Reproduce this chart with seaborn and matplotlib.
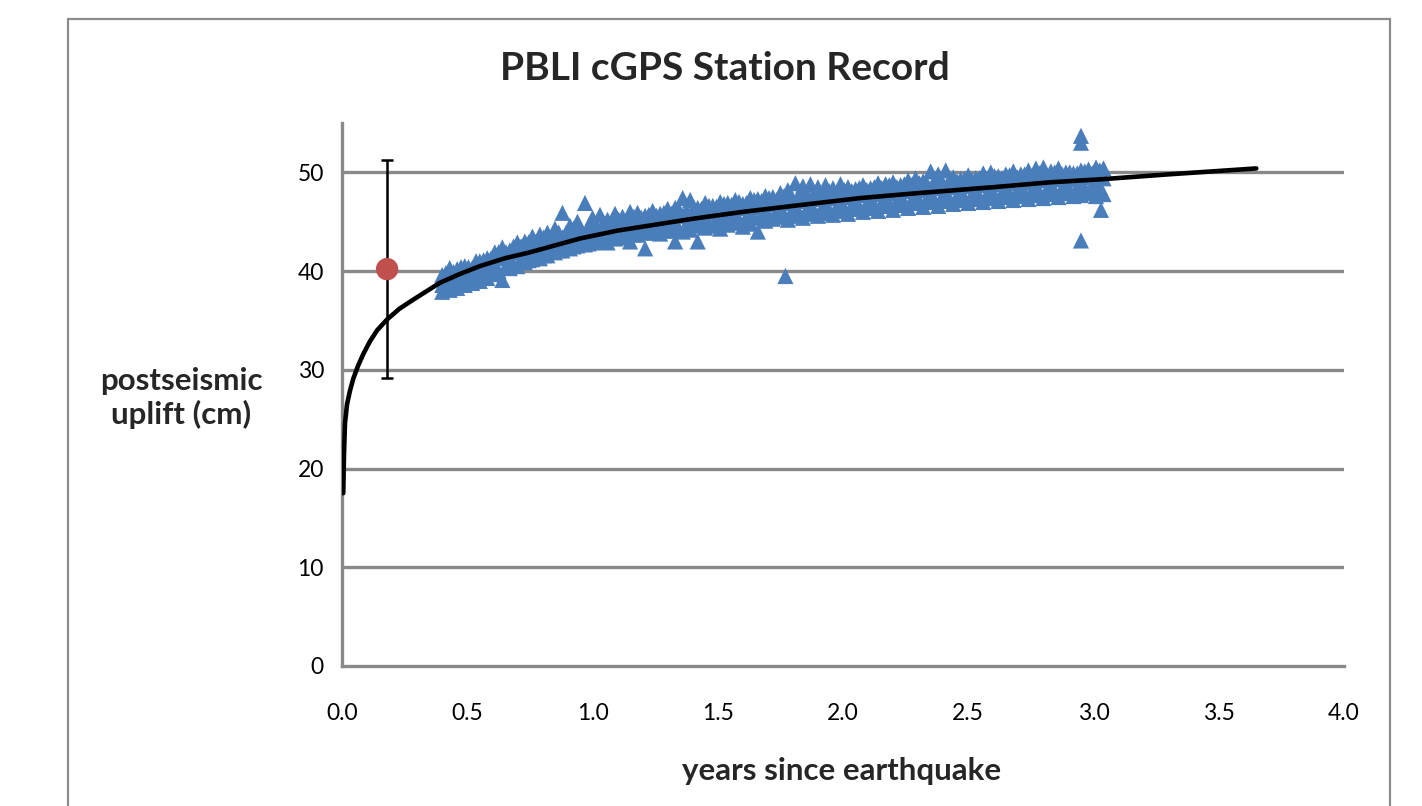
import matplotlib
matplotlib.use("Agg")
import matplotlib.pyplot as plt
import seaborn as sns
import pandas as pd
from matplotlib.patches import Rectangle

# ---------------- data ----------------
t_obs = [0.40, 0.43, 0.46, 0.49, 0.52, 0.55, 0.58, 0.61, 0.64, 0.67, 0.70, 0.73, 0.76, 0.79, 0.82,
         0.85, 0.88, 0.91, 0.94, 0.97, 1.00, 1.03, 1.06, 1.09, 1.12, 1.15, 1.18, 1.21, 1.24, 1.27,
         1.30, 1.33, 1.36, 1.39, 1.42, 1.45, 1.48, 1.51, 1.54, 1.57, 1.60, 1.63, 1.66, 1.69, 1.72,
         1.75, 1.78, 1.81, 1.84, 1.87, 1.90, 1.93, 1.96, 1.99, 2.02, 2.05, 2.08, 2.11, 2.14, 2.17,
         2.20, 2.23, 2.26, 2.29, 2.32, 2.35, 2.38, 2.41, 2.44, 2.47, 2.50, 2.53, 2.56, 2.59, 2.62,
         2.65, 2.68, 2.71, 2.74, 2.77, 2.80, 2.83, 2.86, 2.89, 2.92, 2.95, 2.98, 3.01, 3.04]

uplift_mid = [38.6, 39.0, 39.5, 39.4, 39.9, 40.1, 40.7, 40.6, 41.3, 41.2, 41.9, 41.8, 42.4, 42.2, 42.8,
              42.9, 43.4, 43.1, 43.7, 43.5, 44.1, 43.8, 44.3, 44.0, 44.6, 44.3, 44.9, 44.5, 45.0, 44.7,
              45.3, 44.9, 45.6, 45.2, 45.6, 45.3, 46.0, 45.6, 46.1, 45.8, 46.4, 46.0, 46.5, 46.2, 46.8,
              46.3, 46.9, 46.5, 47.1, 46.7, 47.3, 46.8, 47.4, 46.9, 47.5, 47.1, 47.7, 47.2, 47.8, 47.4,
              47.9, 47.5, 48.1, 47.6, 48.2, 47.8, 48.4, 47.9, 48.5, 48.0, 48.6, 48.1, 48.7, 48.2, 48.8,
              48.4, 48.9, 48.5, 49.0, 48.6, 49.2, 48.7, 49.3, 48.8, 49.3, 48.9, 49.5, 49.0, 49.4]

uplift_hi = [39.6, 40.3, 40.2, 40.5, 40.3, 41.0, 41.3, 41.9, 42.4, 42.1, 42.9, 43.0, 43.5, 43.7, 43.9,
             44.3, 45.9, 44.6, 45.0, 46.9, 45.4, 45.7, 45.2, 45.8, 45.5, 46.0, 45.9, 45.6, 46.1, 45.8,
             46.3, 46.4, 47.4, 47.2, 46.4, 46.9, 46.6, 47.0, 46.9, 47.2, 46.8, 47.4, 47.3, 47.6, 47.5,
             47.9, 48.2, 48.9, 48.6, 48.8, 48.5, 48.7, 48.4, 48.8, 48.5, 48.3, 48.7, 48.4, 48.9, 48.8,
             49.0, 48.7, 49.2, 49.4, 49.1, 50.1, 49.8, 50.2, 49.5, 49.3, 49.7, 49.4, 49.9, 50.0, 49.6,
             49.8, 50.1, 49.8, 50.2, 50.4, 50.5, 50.1, 50.4, 50.0, 49.9, 50.2, 50.3, 50.5, 50.4]

uplift_lo = [37.9, 38.1, 38.3, 38.6, 38.8, 39.0, 39.3, 39.7, 39.1, 40.3, 40.5, 40.9, 41.2, 41.3, 41.6,
             41.9, 42.1, 42.3, 42.6, 42.7, 42.9, 43.1, 42.9, 43.3, 43.5, 43.0, 43.7, 42.3, 43.9, 43.8,
             44.1, 43.0, 44.0, 44.2, 43.0, 44.4, 44.6, 44.3, 44.7, 44.9, 44.5, 44.8, 44.0, 45.1, 45.3,
             45.5, 45.2, 45.6, 45.4, 45.8, 45.6, 45.9, 45.7, 46.1, 45.8, 46.3, 46.0, 46.4, 46.1, 46.6,
             46.2, 46.7, 46.4, 46.9, 46.5, 47.0, 46.6, 47.1, 46.8, 47.2, 46.9, 47.3, 47.0, 47.4, 47.1,
             47.5, 47.2, 47.6, 47.3, 47.7, 47.4, 47.8, 47.5, 47.9, 47.6, 47.7, 47.9, 47.6, 47.8]

t_obs_b = [0.415, 0.445, 0.475, 0.505, 0.535, 0.565, 0.595, 0.625, 0.655, 0.685, 0.715, 0.745,
           0.775, 0.805, 0.835, 0.865, 0.895, 0.925, 0.955, 0.985, 1.015, 1.045, 1.075, 1.105,
           1.135, 1.165, 1.195, 1.225, 1.255, 1.285, 1.315, 1.345, 1.375, 1.405, 1.435, 1.465,
           1.495, 1.525, 1.555, 1.585, 1.615, 1.645, 1.675, 1.705, 1.735, 1.765, 1.795, 1.825,
           1.855, 1.885, 1.915, 1.945, 1.975, 2.005, 2.035, 2.065, 2.095, 2.125, 2.155, 2.185,
           2.215, 2.245, 2.275, 2.305, 2.335, 2.365, 2.395, 2.425, 2.455, 2.485, 2.515, 2.545,
           2.575, 2.605, 2.635, 2.665, 2.695, 2.725, 2.755, 2.785, 2.815, 2.845, 2.875, 2.905,
           2.935, 2.965, 2.995, 3.025]

uplift_ub = [39.8, 39.9, 40.4, 40.4, 41.0, 41.1, 41.3, 41.9, 41.9, 42.5, 42.5, 42.9,
             43.0, 43.4, 43.4, 43.9, 43.9, 44.3, 44.2, 44.6, 44.5, 44.9, 44.8, 45.2,
             45.1, 45.5, 45.4, 45.7, 45.6, 45.9, 45.8, 46.2, 46.1, 46.4, 46.3, 46.6,
             46.5, 46.8, 46.7, 47.0, 46.9, 47.2, 47.1, 47.4, 47.2, 47.6, 47.5, 47.7,
             47.6, 47.9, 47.8, 48.1, 47.9, 48.2, 48.1, 48.4, 48.2, 48.5, 48.4, 48.7,
             48.5, 48.8, 48.7, 48.9, 48.8, 49.1, 48.9, 49.2, 49.1, 49.3, 49.2, 49.4,
             49.3, 49.6, 49.4, 49.7, 49.5, 49.8, 49.6, 49.9, 49.7, 50.0, 49.8, 50.0,
             49.9, 50.1, 49.9, 50.2]

uplift_lb = [38.2, 38.3, 38.7, 38.9, 39.3, 39.4, 39.9, 40.0, 40.5, 40.6, 41.1, 41.1,
             41.6, 41.6, 42.0, 42.1, 42.5, 42.5, 42.9, 42.8, 43.1, 43.1, 43.4, 43.4,
             43.7, 43.7, 44.0, 43.9, 44.2, 44.1, 44.4, 44.3, 44.7, 44.6, 44.9, 44.8,
             45.1, 45.0, 45.3, 45.2, 45.5, 45.4, 45.7, 45.6, 45.8, 45.7, 46.0, 45.9,
             46.2, 46.1, 46.3, 46.2, 46.5, 46.4, 46.6, 46.5, 46.8, 46.7, 46.9, 46.8,
             47.1, 46.9, 47.2, 47.1, 47.3, 47.2, 47.5, 47.3, 47.6, 47.4, 47.7, 47.5,
             47.8, 47.7, 47.9, 47.8, 48.1, 47.9, 48.2, 48.0, 48.3, 48.1, 48.4, 48.2,
             48.5, 48.4, 48.6, 48.5]

t_outlier = [1.77, 2.95, 2.95, 2.95, 3.03]
uplift_outlier = [39.5, 43.1, 53.0, 53.7, 46.2]

t_fit = [0.005, 0.008, 0.012, 0.02, 0.032, 0.045, 0.064, 0.085, 0.112, 0.14, 0.18, 0.23, 0.284,
         0.34, 0.39, 0.47, 0.55, 0.65, 0.75, 0.85, 0.95, 1.1, 1.25, 1.4, 1.6, 1.8, 2.07, 2.3, 2.6,
         2.83, 3.03, 3.3, 3.65]
uplift_fit = [17.5, 21.5, 24.6, 26.5, 27.9, 29.1, 30.4, 31.6, 32.9, 34.0, 35.1, 36.2, 37.1,
              38.0, 38.8, 39.7, 40.5, 41.3, 41.9, 42.6, 43.3, 44.1, 44.7, 45.3, 46.0, 46.6, 47.4,
              47.9, 48.5, 49.0, 49.3, 49.8, 50.4]

t_est = [0.18]
uplift_est = [40.2]
uplift_est_err = [11.05]

x_ticks = [0.0, 0.5, 1.0, 1.5, 2.0, 2.5, 3.0, 3.5, 4.0]
y_ticks = [0, 10, 20, 30, 40, 50]

# ---------------- style ----------------
sns.set_theme(style="white")
plt.rcParams["font.family"] = ["Lato", "DejaVu Sans"]

GRID = "#898989"
BLUE = "#4A7EBB"
RED = "#C0504D"

fig = plt.figure(figsize=(14.22, 8.06), dpi=100)
ax = fig.add_axes([342 / 1422, 1 - 666 / 806, (1344 - 342) / 1422, (666 - 123) / 806])

# outer chart border
fig.patches.append(Rectangle((68 / 1422, -0.05), (1390 - 68) / 1422, 1 - 19 / 806 + 0.05,
                             transform=fig.transFigure, fill=False, edgecolor="#8c8c8c",
                             linewidth=1.6, zorder=0))

obs = pd.DataFrame({
    "t": t_obs * 3 + t_obs_b * 2 + t_outlier,
    "uplift": uplift_mid + uplift_hi + uplift_lo + uplift_ub + uplift_lb + uplift_outlier,
})
sns.scatterplot(data=obs, x="t", y="uplift", marker="^", s=135, color=BLUE,
                edgecolor="none", linewidth=0, ax=ax, zorder=3)

fit = pd.DataFrame({"t": t_fit, "uplift": uplift_fit})
sns.lineplot(data=fit, x="t", y="uplift", color="black", linewidth=3.3, ax=ax,
             sort=True, zorder=4)

ax.errorbar(t_est, uplift_est, yerr=uplift_est_err, fmt="none", ecolor="black",
            elinewidth=1.8, capsize=4.5, capthick=1.8, zorder=5)
est = pd.DataFrame({"t": t_est, "uplift": uplift_est})
sns.scatterplot(data=est, x="t", y="uplift", marker="o", s=260, color=RED,
                edgecolor="none", linewidth=0, ax=ax, zorder=6)

ax.set_xlim(0, 4)
ax.set_ylim(0, 55)
ax.set_xticks(x_ticks)
ax.set_xticklabels([f"{v:.1f}" for v in x_ticks])
ax.set_yticks(y_ticks)
ax.set_yticklabels([str(v) for v in y_ticks])

for v in y_ticks[1:]:
    ax.axhline(v, color=GRID, linewidth=2.4, zorder=1)

for side in ["top", "right"]:
    ax.spines[side].set_visible(False)
for side in ["left", "bottom"]:
    ax.spines[side].set_color(GRID)
    ax.spines[side].set_linewidth(2.4)

ax.tick_params(axis="both", direction="out", length=7, width=2.0, color=GRID,
               labelsize=16.5, labelcolor="black")
ax.tick_params(axis="x", pad=20)
ax.tick_params(axis="y", pad=6)
ax.set_xlabel("")
ax.set_ylabel("")

fig.text(725 / 1422, 1 - 68 / 806, "PBLI cGPS Station Record", ha="center", va="center",
         fontsize=28, fontweight="bold")
fig.text(842 / 1422, 1 - 771 / 806, "years since earthquake", ha="center", va="center",
         fontsize=22.5, fontweight="bold")
fig.text(181 / 1422, 1 - 398 / 806, "postseismic\nuplift (cm)", ha="center", va="center",
         fontsize=22.5, fontweight="bold", linespacing=1.18)

fig.savefig("out.png", dpi=100, facecolor="white")
